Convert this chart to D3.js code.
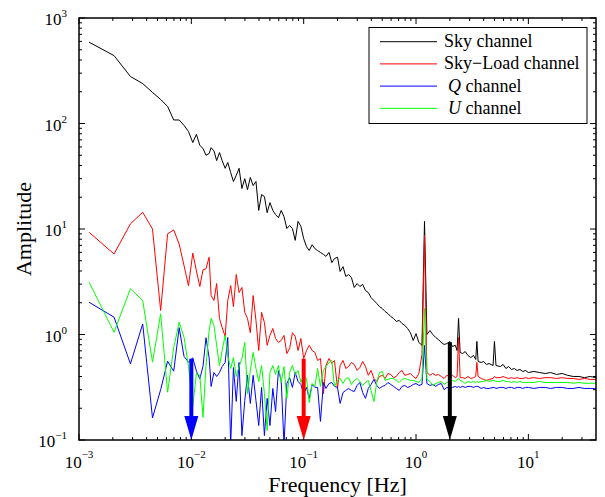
<!DOCTYPE html>
<html>
<head>
<meta charset="utf-8">
<script src="https://cdn.jsdelivr.net/npm/d3@7"></script>
<style>
  body { margin: 0; background: #fff; }
  svg { display: block; font-family: "Liberation Serif", "Times New Roman", serif; }
</style>
</head>
<body>
<div id="chart"></div>
<script>
// frequencies [Hz], shared by all four channels
const freq = [
  0.00123, 0.00205, 0.00287, 0.00369, 0.00451, 0.00533, 0.00615, 0.00697, 0.00779, 0.00861, 0.00943, 0.0103, 0.0111, 0.0119, 0.0127, 0.0135, 0.0144,
  0.015, 0.0159, 0.0168, 0.0178, 0.0188, 0.02, 0.0211, 0.0224, 0.0237, 0.0251,
  0.0266, 0.0282, 0.0299, 0.0316, 0.0335, 0.0355, 0.0376, 0.0398, 0.0422, 0.0447,
  0.0473, 0.0501, 0.0531, 0.0562, 0.0596, 0.0631, 0.0668, 0.0708, 0.075, 0.0794,
  0.0841, 0.0891, 0.0944, 0.1, 0.106, 0.112, 0.119, 0.126, 0.133, 0.141,
  0.15, 0.158, 0.168, 0.178, 0.188, 0.2, 0.211, 0.224, 0.237, 0.251,
  0.266, 0.282, 0.299, 0.316, 0.335, 0.355, 0.376, 0.398, 0.422, 0.447,
  0.473, 0.501, 0.531, 0.562, 0.596, 0.631, 0.668, 0.708, 0.75, 0.794,
  0.841, 0.891, 0.944,
  1.0, 1.06, 1.13, 1.19, 1.25, 1.33, 1.41, 1.5, 1.58, 1.68,
  1.78, 1.88, 2.0, 2.11, 2.24, 2.32, 2.39, 2.47, 2.6, 2.74,
  2.9, 3.07, 3.25, 3.4, 3.48, 3.57, 3.8, 4.0, 4.22, 4.47,
  4.85, 4.99, 5.15, 5.62, 5.96, 6.31, 6.68, 7.08, 7.5, 7.94,
  8.41, 8.91, 9.44, 10, 11.2, 12.6, 14.1, 15.8, 17.8, 20,
  22.4, 25.1, 28.2, 31.6, 35.5, 40
];

const sky = [
  590, 440, 279, 239, 197, 169, 145, 108, 108, 96, 84, 66, 79, 62, 58, 50, 52,
  59, 55, 44.5, 53, 44.5, 37.6, 42.7, 34.2, 28.2, 32.2,
  37.6, 24.2, 30, 23.6, 30.8, 25.8, 28.2, 15, 21.2, 20.3,
  14.3, 17.8, 15, 13.7, 12.8, 15, 13.1, 10.1, 10.8, 10.1,
  7.8, 11.8, 10.6, 8.1, 6.8, 6.25, 7.1, 6.5, 6.25, 6.0,
  5.74, 5.5, 6.0, 4.8, 5.25, 5.4, 3.96, 4.4, 3.55, 3.7,
  3.47, 2.79, 3.04, 2.85, 2.98, 2.61, 2.5, 2.24, 2.1, 1.97,
  1.84, 1.76, 1.65, 1.58, 1.48, 1.42, 1.33, 1.36, 1.27, 1.22,
  1.14, 1.04, 0.877,
  1.02, 0.84, 0.79, 11.8, 1.0, 1.09, 1.0, 0.936, 0.896, 0.84,
  0.804, 0.82, 0.858, 0.77, 0.79, 0.705, 1.42, 0.675, 0.66, 0.69,
  0.632, 0.605, 0.632, 0.58, 0.86, 0.555, 0.543, 0.555, 0.52, 0.53,
  0.508, 0.86, 0.508, 0.497, 0.52, 0.476, 0.497, 0.466, 0.476, 0.456,
  0.466, 0.446, 0.456, 0.436, 0.446, 0.436, 0.427, 0.436, 0.418, 0.427,
  0.41, 0.40, 0.40, 0.39, 0.40, 0.39
];

const skyLoad = [
  9.3, 5.8, 11.2, 14.4, 10, 1.69, 9.0, 9.8, 7.2, 4.5, 2.9, 5.9, 4.0, 2.85, 4.1, 4.2, 5.4,
  2.34, 2.1, 3.04, 1.42, 1.165, 0.957, 2.1, 2.91, 1.84, 3.7,
  2.5, 2.79, 1.62, 1.42, 1.04, 2.34, 1.36, 0.705, 1.62, 1.3,
  0.79, 0.98, 1.14, 0.916, 0.84, 0.877, 0.98, 0.66, 0.737, 1.04,
  0.957, 0.705, 0.916, 0.592, 0.705, 0.79, 0.705, 0.675, 0.567, 0.592,
  0.275, 0.508, 0.592, 0.53, 0.567, 0.308, 0.508, 0.567, 0.476, 0.497,
  0.543, 0.52, 0.456, 0.486, 0.555, 0.497, 0.41, 0.456, 0.383, 0.359,
  0.40, 0.41, 0.383, 0.427, 0.418, 0.39, 0.40, 0.436, 0.456, 0.41,
  0.418, 0.427, 0.40,
  0.383, 0.427, 0.646, 8.7, 0.436, 0.41, 0.427, 0.41, 0.418, 0.40,
  0.383, 0.41, 0.40, 0.41, 0.39, 0.40, 0.936, 0.39, 0.39, 0.383,
  0.40, 0.383, 0.39, 0.40, 0.543, 0.40, 0.383, 0.375, 0.367, 0.375,
  0.383, 0.40, 0.39, 0.39, 0.40, 0.39, 0.383, 0.39, 0.383, 0.39,
  0.383, 0.383, 0.39, 0.383, 0.39, 0.383, 0.39, 0.39, 0.383, 0.39,
  0.383, 0.383, 0.375, 0.383, 0.375, 0.375
];

const qChannel = [
  2.02, 1.46, 0.527, 1.26, 0.162, 0.3, 0.558, 0.449, 1.16, 0.62, 0.547, 0.60, 0.45, 0.38, 0.5, 0.93, 0.6,
  0.322, 0.436, 0.40, 0.436, 0.497, 0.543, 0.936, 0.09, 0.486, 0.232,
  0.543, 0.11, 0.237, 0.41, 0.222, 0.41, 0.237, 0.137, 0.315, 0.11,
  0.248, 0.137, 0.308, 0.186, 0.456, 0.367, 0.09, 0.343, 0.39, 0.315,
  0.436, 0.359, 0.336, 0.275, 0.315, 0.248, 0.336, 0.315, 0.315, 0.15,
  0.351, 0.308, 0.343, 0.351, 0.322, 0.315, 0.222, 0.282, 0.295, 0.308,
  0.295, 0.288, 0.329, 0.351, 0.282, 0.248, 0.308, 0.336, 0.375, 0.329,
  0.308, 0.322, 0.329, 0.351, 0.336, 0.322, 0.308, 0.295, 0.322, 0.329,
  0.315, 0.322, 0.336,
  0.343, 0.329, 0.336, 0.787, 0.343, 0.329, 0.336, 0.322, 0.336, 0.343,
  0.30, 0.315, 0.308, 0.315, 0.322, 0.315, 0.322, 0.315, 0.322, 0.315,
  0.322, 0.322, 0.315, 0.322, 0.322, 0.322, 0.308, 0.315, 0.308, 0.308,
  0.315, 0.315, 0.308, 0.315, 0.315, 0.308, 0.315, 0.315, 0.308, 0.315,
  0.315, 0.308, 0.315, 0.315, 0.308, 0.315, 0.315, 0.308, 0.315, 0.315,
  0.308, 0.308, 0.315, 0.308, 0.308, 0.306
];

const uChannel = [
  3.13, 1.05, 2.71, 2.1, 0.547, 1.57, 0.284, 0.75, 1.31, 0.94, 0.5, 0.21, 0.43, 0.41, 0.164, 0.5, 1.09,
  1.42, 1.22, 0.79, 0.508, 0.705, 0.98, 0.632, 0.476, 0.605, 0.40,
  0.497, 0.592, 0.84, 0.275, 0.456, 0.675, 0.476, 0.359, 0.508, 0.275,
  0.123, 0.436, 0.508, 0.418, 0.508, 0.351, 0.497, 0.248, 0.436, 0.508,
  0.418, 0.456, 0.351, 0.41, 0.383, 0.227, 0.343, 0.322, 0.476, 0.322,
  0.456, 0.497, 0.543, 0.567, 0.322, 0.367, 0.383, 0.343, 0.383, 0.39,
  0.336, 0.367, 0.383, 0.359, 0.329, 0.351, 0.367, 0.295, 0.232, 0.351,
  0.436, 0.446, 0.367, 0.375, 0.383, 0.383, 0.367, 0.351, 0.375, 0.383,
  0.375, 0.367, 0.367,
  0.359, 0.351, 0.383, 1.76, 0.375, 0.359, 0.329, 0.343, 0.351, 0.359,
  0.336, 0.351, 0.359, 0.367, 0.359, 0.375, 0.383, 0.367, 0.359, 0.343,
  0.359, 0.351, 0.359, 0.351, 0.359, 0.351, 0.359, 0.359, 0.367, 0.359,
  0.367, 0.367, 0.359, 0.359, 0.367, 0.359, 0.359, 0.351, 0.359, 0.351,
  0.359, 0.351, 0.351, 0.351, 0.351, 0.359, 0.351, 0.351, 0.351, 0.351,
  0.351, 0.345, 0.351, 0.345, 0.345, 0.345
];

const seriesNames = ["Sky channel", "Sky\u2212Load channel", "Q channel", "U channel"];
const seriesColors = ["#000000", "#ff0000", "#0000ff", "#00ff00"];

const xTicks = [1e-3, 1e-2, 1e-1, 1e0, 1e1];
const xTickExp = ["\u22123", "\u22122", "\u22121", "0", "1"];
const yTicks = [1e-1, 1e0, 1e1, 1e2, 1e3];
const yTickExp = ["\u22121", "0", "1", "2", "3"];

// knee-frequency markers
const arrowFreq = [0.01, 0.1, 2];
const arrowTop = [0.59, 0.59, 0.845];
const arrowColors = ["#0000ff", "#ff0000", "#000000"];

function drawChart() {
    const width = 605;
    const height = 497;
    const margin = { top: 18, right: 9, bottom: 57, left: 79 };

    const svg = d3.select("#chart")
        .append("svg")
        .attr("width", width)
        .attr("height", height);

    const x = d3.scaleLog()
        .domain([1e-3, 40])
        .range([margin.left, width - margin.right]);

    const y = d3.scaleLog()
        .domain([0.1, 1000])
        .range([height - margin.bottom, margin.top]);

    const x0 = margin.left, x1 = width - margin.right;
    const y0 = height - margin.bottom, y1 = margin.top;

    svg.append("clipPath")
        .attr("id", "plot-clip")
        .append("rect")
        .attr("x", x0).attr("y", y1)
        .attr("width", x1 - x0).attr("height", y0 - y1);

    // tick marks, pointing inwards on all four sides
    const minorX = [];
    [1e-3, 1e-2, 1e-1, 1, 10].forEach(d => {
        for (let m = 2; m <= 9; m++) if (d * m < 40) minorX.push(d * m);
    });
    const minorY = [];
    [1e-1, 1, 10, 100].forEach(d => {
        for (let m = 2; m <= 9; m++) minorY.push(d * m);
    });

    const tickG = svg.append("g")
        .attr("stroke", "#000")
        .attr("stroke-width", 1);

    function vTicks(values, len) {
        values.forEach(v => {
            tickG.append("line").attr("x1", x(v)).attr("x2", x(v)).attr("y1", y0).attr("y2", y0 - len);
            tickG.append("line").attr("x1", x(v)).attr("x2", x(v)).attr("y1", y1).attr("y2", y1 + len);
        });
    }
    function hTicks(values, len) {
        values.forEach(v => {
            tickG.append("line").attr("y1", y(v)).attr("y2", y(v)).attr("x1", x0).attr("x2", x0 + len);
            tickG.append("line").attr("y1", y(v)).attr("y2", y(v)).attr("x1", x1).attr("x2", x1 - len);
        });
    }
    vTicks(xTicks, 6);
    vTicks(minorX, 3);
    hTicks(yTicks, 6);
    hTicks(minorY, 3);

    // lines
    const line = d3.line()
        .x(d => x(d.f))
        .y(d => y(d.a));

    const seriesValues = [sky, skyLoad, qChannel, uChannel];
    const plotG = svg.append("g").attr("clip-path", "url(#plot-clip)");

    seriesValues.forEach((vals, i) => {
        const pts = freq.map((f, j) => ({ f: f, a: vals[j] }));
        plotG.append("path")
            .datum(pts)
            .attr("fill", "none")
            .attr("stroke", seriesColors[i])
            .attr("stroke-width", 1)
            .attr("stroke-linejoin", "round")
            .attr("d", line);
    });

    // arrows
    const headH = 24, headW = 14;
    arrowFreq.forEach((f, i) => {
        const ax = x(f);
        const top = y(arrowTop[i]);
        plotG.append("line")
            .attr("x1", ax).attr("x2", ax)
            .attr("y1", top).attr("y2", y0 - headH + 2)
            .attr("stroke", arrowColors[i])
            .attr("stroke-width", 4);
        plotG.append("path")
            .attr("d", `M${ax - headW / 2},${y0 - headH} L${ax + headW / 2},${y0 - headH} L${ax},${y0} Z`)
            .attr("fill", arrowColors[i]);
    });

    // frame
    svg.append("rect")
        .attr("x", x0).attr("y", y1)
        .attr("width", x1 - x0).attr("height", y0 - y1)
        .attr("fill", "none")
        .attr("stroke", "#000")
        .attr("stroke-width", 1.5);

    // tick labels
    xTicks.forEach((v, i) => {
        const t = svg.append("text")
            .attr("x", x(v))
            .attr("y", y0 + 28)
            .attr("text-anchor", "middle")
            .attr("font-size", 17)
            .text("10");
        t.append("tspan")
            .attr("dy", -10)
            .attr("font-size", 11)
            .text(xTickExp[i]);
    });

    yTicks.forEach((v, i) => {
        const t = svg.append("text")
            .attr("x", 67)
            .attr("y", y(v) + 7)
            .attr("text-anchor", "end")
            .attr("font-size", 17)
            .text("10");
        t.append("tspan")
            .attr("dy", -8)
            .attr("font-size", 11)
            .text(yTickExp[i]);
    });

    // axis titles
    svg.append("text")
        .attr("x", (x0 + x1) / 2)
        .attr("y", 492)
        .attr("text-anchor", "middle")
        .attr("font-size", 22)
        .text("Frequency [Hz]");

    svg.append("text")
        .attr("transform", `translate(31,${(y0 + y1) / 2}) rotate(-90)`)
        .attr("text-anchor", "middle")
        .attr("font-size", 22)
        .text("Amplitude");

    // legend
    const legend = svg.append("g");
    legend.append("rect")
        .attr("x", 369).attr("y", 27.5)
        .attr("width", 218).attr("height", 96)
        .attr("fill", "#fff")
        .attr("stroke", "#000")
        .attr("stroke-width", 1);

    seriesNames.forEach((name, i) => {
        const ry = 41.7 + i * 22.2;
        legend.append("line")
            .attr("x1", 380).attr("x2", 437)
            .attr("y1", ry).attr("y2", ry)
            .attr("stroke", seriesColors[i])
            .attr("stroke-width", 1);
        const t = legend.append("text")
            .attr("x", i < 2 ? 444 : 448)
            .attr("y", ry + 5.5)
            .attr("font-size", 18);
        if (i < 2) {
            t.text(name);
        } else {
            t.append("tspan").attr("font-style", "italic").text(name.charAt(0));
            t.append("tspan").text(name.slice(1));
        }
    });
}

document.addEventListener("DOMContentLoaded", drawChart);
</script>
</body>
</html>
